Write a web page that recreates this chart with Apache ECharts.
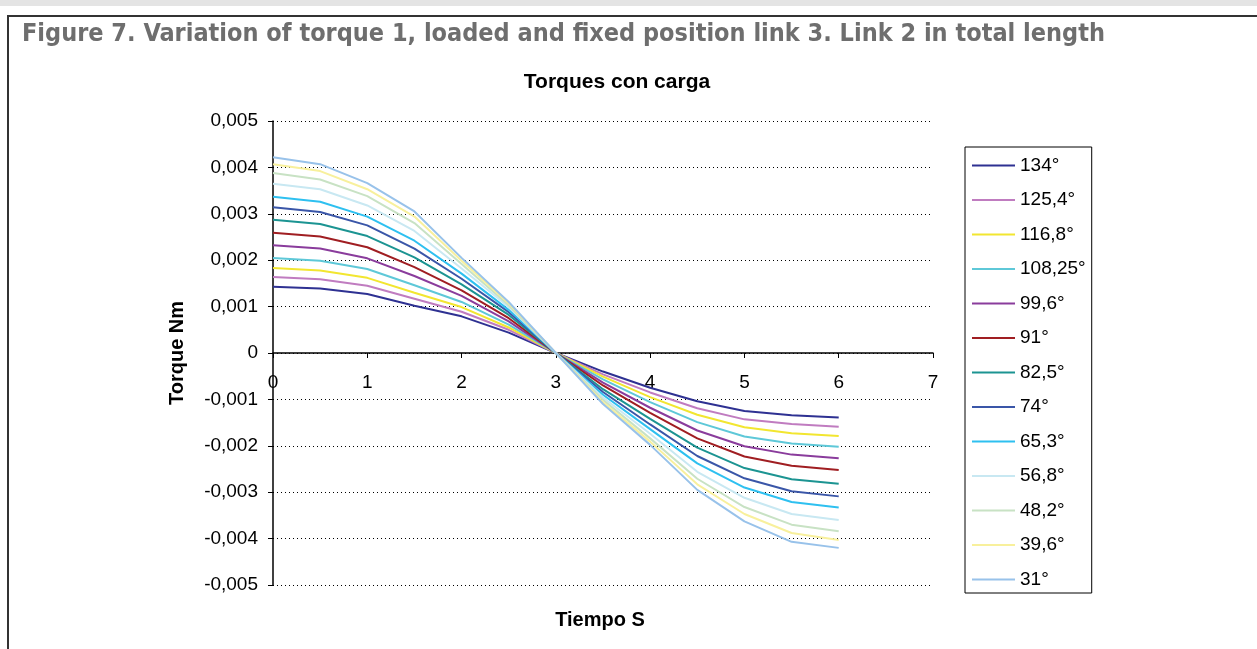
<!DOCTYPE html>
<html>
<head>
<meta charset="utf-8">
<title>Torques con carga</title>
<script src="https://cdn.jsdelivr.net/npm/echarts@6/dist/echarts.min.js"></script>
<style>
	body{
		margin: 0;
		background: #fff;
	}
	#main{
		width: 1257px;
		height: 649px;
	}
</style>
</head>
<body>
<div id="main"></div>
<script>
	// tiempo (s)
	var tiempo = [0, 0.5, 1, 1.5, 2, 2.5, 3, 3.5, 4, 4.5, 5, 5.5, 6];
	var angulos = ['134°', '125,4°', '116,8°', '108,25°', '99,6°', '91°', '82,5°', '74°', '65,3°', '56,8°', '48,2°', '39,6°', '31°'];
	var colores = ['#2e3192', '#c07cc0', '#f2e630', '#5ec8d8', '#8a3c9c', '#a01e22', '#1c9492', '#3a56a8', '#2ec0f0', '#c8e8f2', '#c8e2c4', '#f8f09c', '#98c2ea'];
	var yTicks = [-0.005, -0.004, -0.003, -0.002, -0.001, 0, 0.001, 0.002, 0.003, 0.004, 0.005];

	// torque (Nm) de cada angulo
	var t134 = [0.00143, 0.00139, 0.00127, 0.00102, 0.00079, 0.00044, 0, -0.00040, -0.00075, -0.00104, -0.00125, -0.00134, -0.00139];
	var t125 = [0.00164, 0.00159, 0.00145, 0.00117, 0.00089, 0.00050, 0, -0.00046, -0.00085, -0.00119, -0.00143, -0.00153, -0.00159];
	var t116 = [0.00183, 0.00178, 0.00162, 0.00130, 0.00099, 0.00055, 0, -0.00051, -0.00095, -0.00133, -0.00160, -0.00173, -0.00179];
	var t108 = [0.00205, 0.00199, 0.00181, 0.00146, 0.00110, 0.00061, 0, -0.00057, -0.00106, -0.00149, -0.00180, -0.00195, -0.00202];
	var t99 = [0.00232, 0.00225, 0.00204, 0.00166, 0.00123, 0.00068, 0, -0.00064, -0.00118, -0.00167, -0.00201, -0.00219, -0.00227];
	var t91 = [0.00259, 0.00251, 0.00228, 0.00185, 0.00135, 0.00075, 0, -0.00070, -0.00129, -0.00184, -0.00223, -0.00243, -0.00252];
	var t82 = [0.00287, 0.00278, 0.00252, 0.00206, 0.00148, 0.00082, 0, -0.00078, -0.00142, -0.00204, -0.00248, -0.00272, -0.00282];
	var t74 = [0.00314, 0.00304, 0.00275, 0.00225, 0.00160, 0.00088, 0, -0.00084, -0.00154, -0.00222, -0.00270, -0.00298, -0.00309];
	var t65 = [0.00337, 0.00326, 0.00294, 0.00242, 0.00171, 0.00093, 0, -0.00090, -0.00164, -0.00238, -0.00290, -0.00321, -0.00333];
	var t56 = [0.00365, 0.00353, 0.00318, 0.00263, 0.00182, 0.00099, 0, -0.00096, -0.00174, -0.00256, -0.00312, -0.00347, -0.00360];
	var t48 = [0.00388, 0.00374, 0.00338, 0.00280, 0.00192, 0.00103, 0, -0.00101, -0.00184, -0.00271, -0.00332, -0.00370, -0.00384];
	var t39 = [0.00407, 0.00392, 0.00353, 0.00294, 0.00199, 0.00107, 0, -0.00106, -0.00191, -0.00283, -0.00347, -0.00388, -0.00403];
	var t31 = [0.00422, 0.00407, 0.00366, 0.00305, 0.00205, 0.00110, 0, -0.00110, -0.00198, -0.00295, -0.00363, -0.00407, -0.00420];
	var torques = [t134, t125, t116, t108, t99, t91, t82, t74, t65, t56, t48, t39, t31];

	var myChart = echarts.init(document.getElementById('main'));

	var series = angulos.map(function (nombre, i) {
		return {
			name: nombre,
			type: 'line',
			symbol: 'none',
			lineStyle: { color: colores[i], width: 2 },
			itemStyle: { color: colores[i] },
			data: tiempo.map(function (t, j) { return [t, torques[i][j]]; })
		};
	});

	myChart.setOption({
		animation: false,
		textStyle: { fontFamily: 'Liberation Sans, Arial, sans-serif' },
		graphic: [
			{
				type: 'rect',
				shape: { x: 0, y: 0, width: 1257, height: 6 },
				style: { fill: '#e4e4e4' }
			},
			{
				type: 'polyline',
				shape: { points: [[8, 649], [8, 16], [1257, 16]] },
				style: { stroke: '#333', lineWidth: 2, fill: null }
			},
			{
				type: 'text',
				left: 22,
				top: 22,
				style: {
					text: 'Figure 7. Variation of torque 1, loaded and fixed position link 3. Link 2 in total length',
					font: 'bold 25px "DejaVu Sans Condensed", sans-serif',
					fill: '#6e6e6e'
				}
			},
			{
				// titulo del grafico
				type: 'text',
				x: 617,
				y: 82,
				style: {
					text: 'Torques con carga',
					font: 'bold 21px "Liberation Sans", Arial, sans-serif',
					fill: '#000',
					align: 'center',
					verticalAlign: 'middle'
				}
			},
			{
				// titulo del eje x
				type: 'text',
				x: 600,
				y: 620,
				style: {
					text: 'Tiempo S',
					font: 'bold 20px "Liberation Sans", Arial, sans-serif',
					fill: '#000',
					align: 'center',
					verticalAlign: 'middle'
				}
			}
		],
		legend: {
			orient: 'vertical',
			left: 965,
			top: 147,
			padding: [9, 6, 4, 7],
			icon: 'rect',
			itemWidth: 43,
			itemHeight: 2,
			itemGap: 15.5,
			borderColor: '#000',
			borderWidth: 1,
			textStyle: { fontSize: 19, color: '#000' },
			data: angulos
		},
		grid: {
			left: 273,
			right: 324,
			top: 121,
			bottom: 64,
			outerBoundsMode: 'none',
			containLabel: false
		},
		xAxis: {
			type: 'value',
			min: 0,
			max: 7,
			interval: 1,
			position: 'bottom',
			// el eje x cruza en y = 0 (mitad del grid)
			offset: -232,
			axisLine: { onZero: false, lineStyle: { color: '#000', width: 1.5 } },
			axisTick: { length: 5, lineStyle: { color: '#000' } },
			axisLabel: { fontSize: 19, color: '#000', margin: 20 },
			splitLine: { show: false }
		},
		yAxis: {
			type: 'value',
			min: yTicks[0],
			max: yTicks[yTicks.length - 1],
			interval: 0.001,
			name: 'Torque Nm',
			nameLocation: 'middle',
			nameGap: 86,
			nameTextStyle: { fontSize: 20, fontWeight: 'bold', color: '#000' },
			axisLine: { show: true, lineStyle: { color: '#000', width: 1.5 } },
			axisTick: { show: true, length: 5, lineStyle: { color: '#000' } },
			axisLabel: {
				fontSize: 19,
				color: '#000',
				margin: 15,
				formatter: function (v) {
					if (Math.abs(v) < 1e-9) return '0';
					return v.toFixed(3).replace('.', ',');
				}
			},
			splitLine: { show: true, lineStyle: { color: '#000', type: [1, 3], width: 1 } }
		},
		series: series
	});
</script>
</body>
</html>
